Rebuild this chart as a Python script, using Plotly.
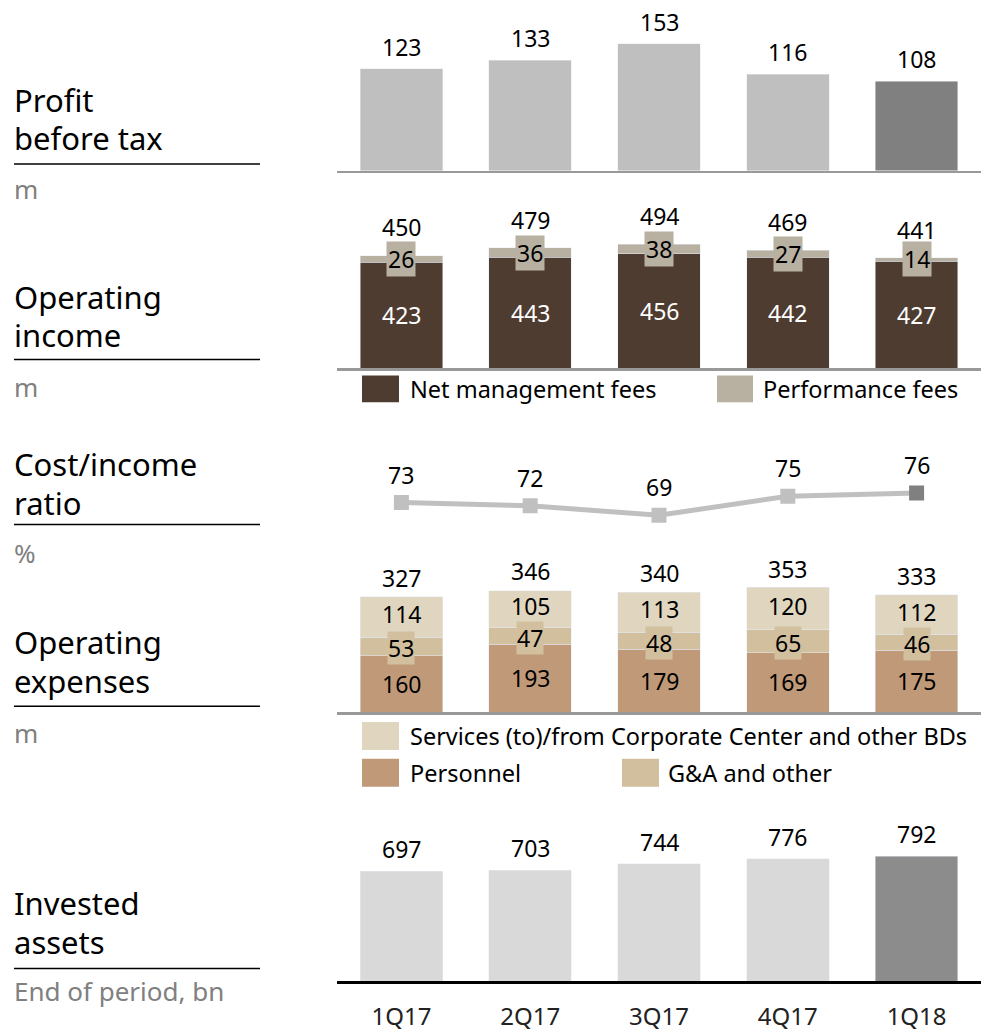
import plotly.graph_objects as go

W, H = 981, 1032

quarters = ["1Q17", "2Q17", "3Q17", "4Q17", "1Q18"]
profit_before_tax = [123, 133, 153, 116, 108]
net_mgmt_fees = [423, 443, 456, 442, 427]
performance_fees = [26, 36, 38, 27, 14]
op_income_total = [450, 479, 494, 469, 441]
cost_income_ratio = [73, 72, 69, 75, 76]
personnel = [160, 193, 179, 169, 175]
ga_other = [53, 47, 48, 65, 46]
services = [114, 105, 113, 120, 112]
op_expenses_total = [327, 346, 340, 353, 333]
invested_assets = [697, 703, 744, 776, 792]

FONT = "Noto Sans"
C_PROFIT = ["#bfbfbf"] * 4 + ["#808080"]
C_IA = ["#d9d9d9"] * 4 + ["#8c8c8c"]
C_NET = "#4e3c31"
C_PERF = "#b8b0a0"
C_PERS = "#c09a78"
C_GA = "#d2bf9e"
C_SERV = "#e0d6c0"
C_CIR = ["#c0c0c0"] * 4 + ["#808080"]


def px_y(p):
    return 1 - p / H


def px_x(p):
    return p / W


BW = 0.64
fig = go.Figure()

fig.add_trace(go.Bar(x=quarters, y=profit_before_tax, marker_color=C_PROFIT, width=BW,
                     xaxis="x", yaxis="y", hoverinfo="skip"))
fig.add_trace(go.Bar(x=quarters, y=net_mgmt_fees, marker_color=C_NET, width=BW,
                     xaxis="x2", yaxis="y2", hoverinfo="skip"))
fig.add_trace(go.Bar(x=quarters, y=performance_fees, marker_color=C_PERF, width=BW,
                     xaxis="x2", yaxis="y2", hoverinfo="skip"))
fig.add_trace(go.Scatter(x=quarters, y=cost_income_ratio, mode="lines+markers",
                         line=dict(color="#c0c0c0", width=5),
                         marker=dict(symbol="square", size=15, color=C_CIR),
                         xaxis="x3", yaxis="y3", hoverinfo="skip"))
fig.add_trace(go.Bar(x=quarters, y=personnel, marker_color=C_PERS, width=BW,
                     xaxis="x4", yaxis="y4", hoverinfo="skip"))
fig.add_trace(go.Bar(x=quarters, y=ga_other, marker_color=C_GA, width=BW,
                     xaxis="x4", yaxis="y4", hoverinfo="skip"))
fig.add_trace(go.Bar(x=quarters, y=services, marker_color=C_SERV, width=BW,
                     xaxis="x4", yaxis="y4", hoverinfo="skip"))
fig.add_trace(go.Bar(x=quarters, y=invested_assets, marker_color=C_IA, width=BW,
                     xaxis="x5", yaxis="y5", hoverinfo="skip"))

ann = []


def lab(xa, ya, x, y, text, yshift=0, color="#000", bg=None, anchor="middle", pad=1, size=23):
    d = dict(x=x, y=y, xref=xa, yref=ya, text=text, showarrow=False, yanchor=anchor,
             yshift=yshift, font=dict(family=FONT, size=size, color=color), borderpad=pad)
    if bg:
        d["bgcolor"] = bg
    ann.append(d)


for q, v in zip(quarters, profit_before_tax):
    lab("x", "y", q, v, str(v), yshift=4, anchor="bottom")
for q, n, p, t in zip(quarters, net_mgmt_fees, performance_fees, op_income_total):
    lab("x2", "y2", q, n / 2, str(n), color="#ffffff")
    lab("x2", "y2", q, n + p / 2, str(p), bg=C_PERF, pad=1)
    lab("x2", "y2", q, t, str(t), yshift=11, anchor="bottom", pad=0)
for q, v in zip(quarters, cost_income_ratio):
    lab("x3", "y3", q, v, str(v), yshift=10, anchor="bottom")
for q, a, b, c, t in zip(quarters, personnel, ga_other, services, op_expenses_total):
    lab("x4", "y4", q, a / 2, str(a))
    lab("x4", "y4", q, a + b / 2, str(b), bg=C_GA, pad=0, yshift=-2)
    lab("x4", "y4", q, a + b + c / 2, str(c), yshift=3, pad=0)
    lab("x4", "y4", q, t, str(t), yshift=1, anchor="bottom")
for q, v in zip(quarters, invested_assets):
    lab("x5", "y5", q, v, str(v), yshift=4, anchor="bottom")

# Left-side titles: (line1, y1, line2, y2, underline y, unit, unit y)
titles = [
    ("Profit", 101, "before tax", 139, 165, "m", 190),
    ("Operating", 299, "income", 337, 362, "m", 390),
    ("Cost/income", 467, "ratio", 506, 528, "%", 557),
    ("Operating", 646, "expenses", 686, 711, "m", 738),
    ("Invested", 909, "assets", 948, 975, "End of period, bn", 998),
]
shapes = []
for t1, y1, t2, y2, ly, u, uy in titles:
    for t, ty in ((t1, y1), (t2, y2)):
        ann.append(dict(x=px_x(12), y=px_y(ty), xref="paper", yref="paper", text=t,
                        showarrow=False, xanchor="left", yanchor="middle", align="left",
                        font=dict(family=FONT, size=31, color="#000")))
    ann.append(dict(x=px_x(12), y=px_y(uy), xref="paper", yref="paper", text=u,
                    showarrow=False, xanchor="left", yanchor="middle", align="left",
                    font=dict(family=FONT, size=26, color="#808080")))
    shapes.append(dict(type="line", xref="paper", yref="paper", x0=px_x(14), x1=px_x(260),
                       y0=px_y(ly), y1=px_y(ly), line=dict(color="#000", width=1.5)))

legend_items = [
    (362, 399, 378, 405, C_NET, "Net management fees", 408),
    (717, 753, 378, 405, C_PERF, "Performance fees", 761),
    (362, 399, 727, 755, C_SERV, "Services (to)/from Corporate Center and other BDs", 408),
    (362, 399, 764, 792, C_PERS, "Personnel", 408),
    (622, 659, 764, 792, C_GA, "G&A and other", 666),
]
for x0, x1, y0, y1, c, t, tx in legend_items:
    shapes.append(dict(type="rect", xref="paper", yref="paper", x0=px_x(x0), x1=px_x(x1),
                       y0=px_y(y1), y1=px_y(y0), fillcolor=c, line=dict(width=0)))
    ann.append(dict(x=px_x(tx), y=px_y((y0 + y1) / 2), xref="paper", yref="paper", text=t,
                    showarrow=False, xanchor="left", yanchor="middle",
                    font=dict(family=FONT, size=23.5, color="#000")))

xdom = [px_x(337), 1]


def xax(anchor, line=True, color="#999999", ticks=False):
    d = dict(domain=xdom, anchor=anchor, type="category", range=[-0.5, 4.5],
             showgrid=False, zeroline=False, showline=line, linecolor=color, linewidth=2.5,
             showticklabels=ticks, fixedrange=True)
    if ticks:
        d.update(ticks="outside", ticklen=12, tickcolor="rgba(0,0,0,0)",
                 tickfont=dict(family=FONT, size=24, color="#222222"))
    return d


def yax(bottom_px, top_px, rng):
    return dict(domain=[px_y(bottom_px), px_y(top_px)], range=rng, visible=False,
                showgrid=False, zeroline=False, fixedrange=True)


fig.update_layout(
    width=W, height=H, margin=dict(l=0, r=0, t=0, b=0),
    paper_bgcolor="#ffffff", plot_bgcolor="rgba(0,0,0,0)",
    showlegend=False, barmode="stack", hovermode=False,
    xaxis=xax("y"),
    xaxis2=xax("y2"),
    xaxis3=xax("y3", line=False),
    xaxis4=xax("y4"),
    xaxis5=xax("y5", color="#000000", ticks=True),
    yaxis=yax(172, 10, [0, 162 / 0.837]),
    yaxis2=yax(371, 200, [0, 171 / 0.2533]),
    yaxis3=yax(540, 440, [73 - 34 / 3.2, 73 + 66 / 3.2]),
    yaxis4=yax(717, 560, [0, 157 / 0.3547]),
    yaxis5=yax(988, 830, [0, 158 / 0.159]),
    annotations=ann,
    shapes=shapes,
    font=dict(family=FONT),
)

fig.write_html(
    "out.html",
    config={"displayModeBar": False, "staticPlot": True},
    post_script="document.body.style.margin='0';document.body.style.overflow='hidden';",
)
